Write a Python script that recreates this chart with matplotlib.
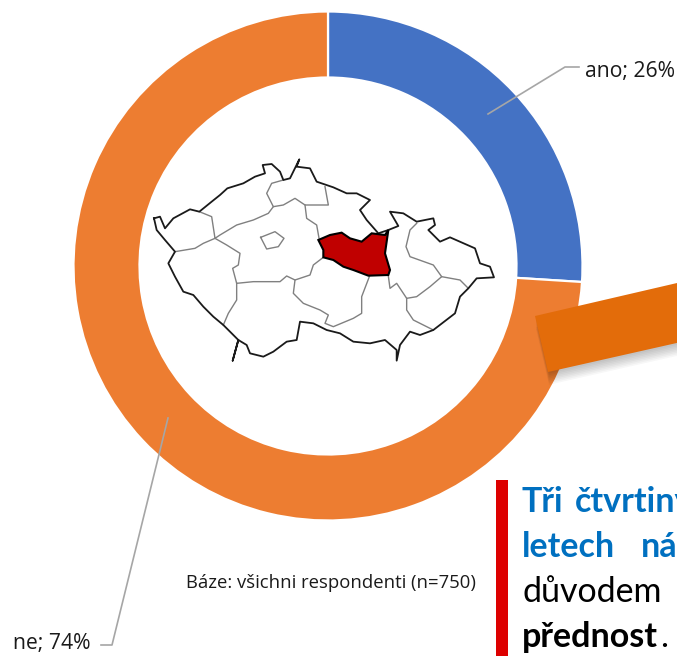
#!/usr/bin/env python3
"""Donut chart with the Czech region map in the hole and a cropped callout."""

import matplotlib
matplotlib.use("Agg")
import matplotlib.pyplot as plt
from matplotlib.patches import Polygon, Rectangle

W, H = 677, 656

CATEGORIES = ["ano", "ne"]
SHARES = [26, 74]
COLORS = ["#4472C4", "#ED7D31"]
BASE_NOTE = "Báze: všichni respondenti (n=750)"

FONT = "Lato"
LABEL_FONT = "Open Sans"
GRAY_LINE = "#A6A6A6"
BLUE_TEXT = "#0070C0"

# map outlines, traced in 3x crop coordinates
MAP_BORDER = [
    (42, 205), (60, 200), (75, 235), (100, 205), (150, 178), (178, 185), (215, 155), (240, 135),
    (262, 115), (310, 100), (345, 80), (375, 70), (368, 45), (395, 42), (420, 65), (430, 90),
    (450, 85), (478, 28), (470, 50), (510, 55), (530, 95), (580, 112), (620, 130), (650, 130),
    (690, 150), (660, 180), (680, 210), (715, 250), (745, 240), (775, 228), (750, 185), (790, 190),
    (830, 215), (880, 205), (885, 225), (865, 240), (900, 275), (930, 262), (1005, 295), (1020, 340),
    (1050, 350), (1062, 382), (1010, 385), (985, 415), (960, 440), (945, 490), (880, 540), (840, 555),
    (810, 545), (780, 585), (770, 632), (770, 600), (735, 570), (690, 580), (640, 575), (600, 550),
    (560, 540), (520, 520), (480, 515), (470, 570), (440, 575), (400, 605), (370, 620), (330, 610),
    (320, 585), (295, 570), (278, 632), (295, 570), (250, 525), (220, 500), (190, 470), (160, 435),
    (130, 425), (105, 380), (85, 340), (105, 305), (75, 270), (50, 240), (42, 205),
]
MAP_INNER = [
    [(430, 90), (395, 100), (380, 130), (400, 170), (430, 165), (465, 145), (495, 165), (540, 165), (565, 165), (555, 110)],
    [(400, 170), (385, 190), (340, 210), (290, 225), (240, 255), (225, 265), (215, 200), (178, 185)],
    [(225, 265), (190, 280), (165, 295), (105, 305)],
    [(225, 265), (260, 285), (300, 310), (295, 345), (278, 355), (290, 400), (340, 395), (420, 395),
     (440, 378), (465, 390), (510, 375), (520, 345), (550, 322)],
    [(495, 165), (500, 205), (530, 225), (538, 270)],
    [(290, 400), (290, 450), (265, 490), (250, 525)],
    [(465, 390), (460, 430), (490, 460), (540, 480), (565, 495), (555, 520), (580, 530), (640, 505),
     (665, 490), (665, 440), (688, 380)],
    [(745, 378), (750, 415), (770, 400), (800, 445), (800, 480), (820, 510), (880, 540)],
    [(800, 445), (830, 440), (870, 410), (905, 380), (880, 345), (810, 320), (798, 290), (810, 240), (830, 220)],
    [(905, 380), (960, 390), (985, 415)],
    [(362, 262), (405, 245), (432, 265), (415, 290), (380, 297), (362, 262)],
]
MAP_REGION = [
    (535, 270), (570, 255), (605, 248), (630, 265), (665, 275), (695, 250), (735, 255), (745, 240),
    (735, 310), (750, 360), (745, 375), (685, 377), (640, 360), (610, 350), (580, 330), (550, 322),
    (550, 300), (535, 270),
]


def py(y):
    return H - y


def crop_xy(points):
    return [140 + x / 3 for x, _ in points], [py(150 + y / 3) for _, y in points]


def main():
    fig = plt.figure(figsize=(W / 100, H / 100), dpi=100)
    ax = fig.add_axes([0, 0, 1, 1])

    ax.pie(SHARES, colors=COLORS, startangle=90, counterclock=False, radius=254.5, center=(328, py(266)),
           wedgeprops=dict(width=66, edgecolor="white", linewidth=1.6))
    ax.set_xlim(0, W)
    ax.set_ylim(0, H)
    ax.set_aspect("equal")
    ax.axis("off")

    # map
    for seg in MAP_INNER:
        x, y = crop_xy(seg)
        ax.plot(x, y, color="#808080", lw=1.0, zorder=3)
    x, y = crop_xy(MAP_BORDER)
    ax.plot(x, y, color="#1a1a1a", lw=1.3, zorder=4)
    x, y = crop_xy(MAP_REGION)
    ax.fill(x, y, facecolor="#C00000", edgecolor="black", lw=1.5, zorder=5)

    # leader lines and labels
    ax.plot([488, 565, 579], [py(114), py(67), py(67)], color=GRAY_LINE, lw=1.2, zorder=3)
    ax.plot([168, 112, 101], [py(418), py(645), py(645)], color=GRAY_LINE, lw=1.2, zorder=3)
    ax.text(585, py(72), f"{CATEGORIES[0]}; {SHARES[0]}%", fontsize=15.2, family=LABEL_FONT, va="center", color="#1a1a1a")
    ax.text(13, py(644), f"{CATEGORIES[1]}; {SHARES[1]}%", fontsize=15.2, family=LABEL_FONT, va="center", color="#1a1a1a")
    ax.text(186, py(583), BASE_NOTE, fontsize=13.3, family=LABEL_FONT, va="center", color="#1a1a1a")

    # callout band with soft shadow
    band = [(535, 316), (548, 372), (690, 340), (690, 280)]
    for i in range(1, 9):
        shadow = [(a + 1, py(b + i * 1.6)) for a, b in band]
        ax.add_patch(Polygon(shadow, closed=True, facecolor="black", edgecolor="none", alpha=0.03, zorder=6))
    ax.add_patch(Polygon([(a, py(b)) for a, b in band], closed=True, facecolor="#E36C0A", edgecolor="none", zorder=7))

    # cropped takeaway text
    ax.add_patch(Rectangle((496, 0), 12, py(480), facecolor="#DD0000", edgecolor="none", zorder=7))
    kw = dict(fontsize=24.5, family=FONT, va="baseline", zorder=8)
    ax.text(522, py(512), "Tři", color=BLUE_TEXT, fontweight="bold", **kw)
    ax.text(575, py(512), "čtvrtiny", color=BLUE_TEXT, fontweight="bold", **kw)
    ax.text(522, py(557), "letech", color=BLUE_TEXT, fontweight="bold", **kw)
    ax.text(641, py(557), "ná", color=BLUE_TEXT, fontweight="bold", **kw)
    ax.text(522, py(602), "důvodem", color="black", **kw)
    ax.text(522, py(647), "přednost", color="black", fontweight="bold", **kw)
    ax.text(660, py(647), ".", color="black", **kw)

    fig.savefig("out.png", dpi=100, facecolor="white")
    plt.close(fig)


if __name__ == "__main__":
    main()
